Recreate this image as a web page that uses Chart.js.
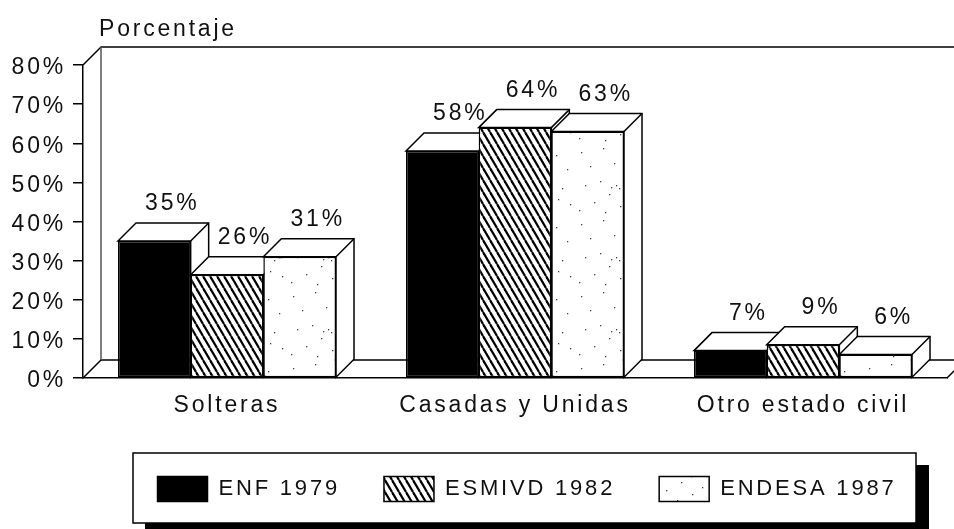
<!DOCTYPE html>
<html><head><meta charset="utf-8">
<style>html,body{margin:0;padding:0;background:#fff}canvas{display:block}</style>
<script src="https://cdn.jsdelivr.net/npm/chart.js@4"></script>
</head><body><canvas id="c" width="954" height="529"></canvas>
<script>
const categories = ['Solteras', 'Casadas y Unidas', 'Otro estado civil'];
const enf1979 = [35, 58, 7];
const esmivd1982 = [26.4, 64, 8.5];
const endesa1987 = [31, 63, 6];
const seriesNames = ['ENF 1979', 'ESMIVD 1982', 'ENDESA 1987'];
const yLabel = 'Porcentaje';

const FONT = {family: '"Liberation Sans", Arial, sans-serif', size: 23, weight: 'normal'};
const LEGEND_FONT = {family: '"Liberation Sans", Arial, sans-serif', size: 22, weight: 'normal'};
const FONTCSS = '23px "Liberation Sans", Arial, sans-serif';
const SPACING = '2.8px';
const DEPTH_X = 18, DEPTH_Y = 18;
const LEGEND_PAD = 44;

function hatchPattern() {
  const w = 7, h = 12;
  const t = document.createElement('canvas'); t.width = w; t.height = h;
  const g = t.getContext('2d');
  g.fillStyle = '#fff'; g.fillRect(0, 0, w, h);
  g.strokeStyle = '#000'; g.lineWidth = 2.2;
  [-w, 0, w].forEach(o => { g.beginPath(); g.moveTo(o, 0); g.lineTo(o + w, h); g.stroke(); });
  return g.createPattern(t, 'repeat');
}
function dotPattern() {
  const dots = [[5,8],[27,4],[52,11],[63,25],[14,22],[38,19],[47,33],[9,41],[24,37],[58,44],[33,50],[18,58],[44,62],[66,60],[3,66],[29,68],[54,55],[40,41],[35,43],[43,44]];
  const t = document.createElement('canvas'); t.width = 72; t.height = 72;
  const g = t.getContext('2d');
  g.fillStyle = '#fff'; g.fillRect(0, 0, 72, 72);
  g.fillStyle = '#444';
  dots.forEach(d => g.fillRect(d[0], d[1], 1.3, 1.3));
  return g.createPattern(t, 'repeat');
}

const solidScene = {
  id: 'solidScene',
  beforeUpdate(chart) { chart.ctx.letterSpacing = SPACING; },
  beforeDraw(chart) {
    const ctx = chart.ctx, a = chart.chartArea;
    ctx.letterSpacing = SPACING;
    const lg = chart.legend;
    const h = lg.bottom - lg.top;
    lg.left = 100; lg.right = 954;
    lg.top = 489 - 12.5 - LEGEND_PAD; lg.bottom = lg.top + h;
    ctx.save();
    // legend panel and its shadow
    ctx.fillStyle = '#000';
    ctx.fillRect(145, 465, 784, 64);
    ctx.fillStyle = '#fff'; ctx.strokeStyle = '#000'; ctx.lineWidth = 1.5;
    ctx.fillRect(133, 453, 783, 70);
    ctx.strokeRect(133, 453, 783, 70);
    // back wall, floor
    ctx.lineWidth = 1.5; ctx.strokeStyle = '#000';
    ctx.beginPath();
    ctx.moveTo(a.left, a.top); ctx.lineTo(a.left + DEPTH_X, a.top - DEPTH_Y); ctx.lineTo(954, a.top - DEPTH_Y);
    ctx.moveTo(a.left, a.bottom); ctx.lineTo(a.left + DEPTH_X, a.bottom - DEPTH_Y); ctx.lineTo(954, a.bottom - DEPTH_Y);
    ctx.moveTo(a.right, a.bottom); ctx.lineTo(954, a.bottom - 7);
    ctx.stroke();
    ctx.strokeStyle = '#555';
    ctx.beginPath();
    ctx.moveTo(a.left + DEPTH_X, a.top - DEPTH_Y); ctx.lineTo(a.left + DEPTH_X, a.bottom - DEPTH_Y);
    ctx.stroke();
    ctx.restore();
  },
  beforeDatasetsDraw(chart) {
    const ctx = chart.ctx;
    ctx.save();
    ctx.lineWidth = 1.5; ctx.strokeStyle = '#000'; ctx.fillStyle = '#fff'; ctx.lineJoin = 'miter';
    chart.data.labels.forEach((_, i) => {
      chart.data.datasets.forEach((ds, d) => {
        const b = chart.getDatasetMeta(d).data[i];
        const l = b.x - b.width / 2, r = b.x + b.width / 2, t = b.y, f = b.base;
        ctx.beginPath();
        ctx.moveTo(l, t); ctx.lineTo(l + DEPTH_X, t - DEPTH_Y); ctx.lineTo(r + DEPTH_X, t - DEPTH_Y);
        ctx.lineTo(r + DEPTH_X, f - DEPTH_Y); ctx.lineTo(r, f); ctx.lineTo(r, t); ctx.closePath();
        ctx.fill(); ctx.stroke();
        ctx.beginPath(); ctx.moveTo(r, t); ctx.lineTo(r + DEPTH_X, t - DEPTH_Y); ctx.stroke();
      });
    });
    ctx.restore();
  },
  afterDatasetsDraw(chart) {
    const ctx = chart.ctx;
    ctx.save();
    ctx.letterSpacing = SPACING;
    ctx.font = FONTCSS; ctx.fillStyle = '#111';
    ctx.textAlign = 'center'; ctx.textBaseline = 'alphabetic';
    chart.data.datasets.forEach((ds, d) => {
      chart.getDatasetMeta(d).data.forEach((b, i) => {
        ctx.fillText(Math.round(ds.data[i]) + '%', b.x + DEPTH_X, b.y - DEPTH_Y - 13);
      });
    });
    ctx.textAlign = 'left';
    ctx.fillText(yLabel, 99, 36);
    ctx.restore();
  }
};

const base = {borderColor: '#000', borderWidth: 1.5, borderSkipped: false};
new Chart(document.getElementById('c'), {
  type: 'bar',
  plugins: [solidScene],
  data: {
    labels: categories,
    datasets: [
      Object.assign({label: seriesNames[0], data: enf1979, backgroundColor: '#000'}, base),
      Object.assign({label: seriesNames[1], data: esmivd1982, backgroundColor: hatchPattern()}, base),
      Object.assign({label: seriesNames[2], data: endesa1987, backgroundColor: dotPattern()}, base)
    ]
  },
  options: {
    responsive: false, animation: false, devicePixelRatio: 1,
    layout: {padding: {top: 65, right: 7, left: 0, bottom: 0}},
    datasets: {bar: {categoryPercentage: 0.757, barPercentage: 1}},
    plugins: {
      title: {display: false},
      tooltip: {enabled: false},
      legend: {
        display: true, position: 'bottom',
        labels: {boxWidth: 50, boxHeight: 25, padding: LEGEND_PAD, color: '#111', font: LEGEND_FONT}
      }
    },
    scales: {
      x: {
        grid: {display: false, drawTicks: false},
        border: {display: true, color: '#000', width: 1.5},
        ticks: {color: '#111', font: FONT, padding: 14, maxRotation: 0},
        afterFit(s) { s.height = 72; }
      },
      y: {
        min: 0, max: 80,
        grid: {drawOnChartArea: false, drawTicks: true, tickLength: 10, color: '#000', lineWidth: 1.5},
        border: {display: true, color: '#000', width: 1.5},
        ticks: {stepSize: 10, color: '#111', font: FONT, padding: 7, labelOffset: 3, callback: v => v + '%'},
        afterFit(s) { s.width = 83; }
      }
    }
  }
});
</script></body></html>
